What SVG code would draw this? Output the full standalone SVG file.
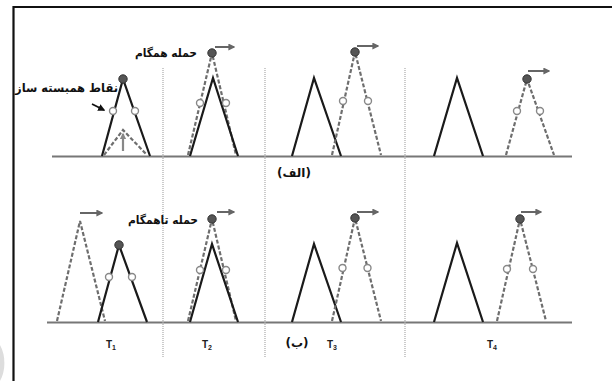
<svg xmlns="http://www.w3.org/2000/svg" width="613" height="381" viewBox="0 0 613 381">
<defs>
<style>
.bg{fill:#fff}
.frame{stroke:#111;stroke-width:2.2;fill:none}
.base{stroke:#777;stroke-width:2;fill:none}
.sep{stroke:#aaa;stroke-width:1.2;stroke-dasharray:1 1;fill:none}
.solid{stroke:#1a1a1a;stroke-width:2.2;fill:none;stroke-linejoin:miter}
.dash{stroke:#6e6e6e;stroke-width:2.2;fill:none;stroke-dasharray:4 2}
.peak{fill:#555;stroke:#333;stroke-width:1}
.pt{fill:#fff;stroke:#888;stroke-width:1.4}
.mv{stroke:#666;stroke-width:2;fill:none;marker-end:url(#ah)}
.lbl{font-family:"DejaVu Sans","Noto Sans",sans-serif;font-weight:bold;fill:#111}
.t{font-family:"Liberation Sans",Arial,sans-serif;font-weight:bold;font-size:10px;fill:#222}
</style>
<marker id="ah" viewBox="0 0 10 10" refX="8" refY="5" markerWidth="3.5" markerHeight="3.5" orient="auto" markerUnits="strokeWidth">
<path d="M0,0 L10,5 L0,10 z" fill="#666"/>
</marker>
<marker id="ahk" viewBox="0 0 10 10" refX="8" refY="5" markerWidth="4" markerHeight="4" orient="auto" markerUnits="strokeWidth">
<path d="M0,0 L10,5 L0,10 z" fill="#111"/>
</marker>
<marker id="ahg" viewBox="0 0 10 10" refX="8" refY="5" markerWidth="3" markerHeight="3" orient="auto" markerUnits="strokeWidth">
<path d="M0,0 L10,5 L0,10 z" fill="#888"/>
</marker>
</defs>
<rect class="bg" x="0" y="0" width="613" height="381"/>
<path d="M0,381 A22,30 0 0 0 0,345 z" fill="#ddd"/>
<path class="frame" d="M13.5,381 V7 H612"/>

<g id="axes">
<line class="base" x1="52" y1="156.5" x2="572" y2="156.5"/>
<line class="base" x1="47" y1="322.5" x2="572" y2="322.5"/>
<line class="sep" x1="163" y1="68" x2="163" y2="358"/>
<line class="sep" x1="265" y1="68" x2="265" y2="358"/>
<line class="sep" x1="405" y1="68" x2="405" y2="358"/>
</g>

<!-- top row -->
<g id="top-t1">
<polyline class="solid" points="102,156 123,79 150,156"/>
<polyline class="dash" points="104,155 123,130 147,155"/>
<circle class="peak" cx="123" cy="79" r="4.2"/>
<circle class="pt" cx="113" cy="111" r="3.5"/>
<circle class="pt" cx="135" cy="111" r="3.5"/>
<text class="lbl" x="118" y="92" font-size="12" text-anchor="end" textLength="103" lengthAdjust="spacingAndGlyphs">نقاط همبسته ساز</text>
</g>
<g id="top-t2">
<polyline class="dash" points="188,155 212,53 236,155"/>
<polyline class="solid" points="190,156 213,78 238,156"/>
<circle class="peak" cx="212" cy="53" r="4.2"/>
<circle class="pt" cx="200" cy="103" r="3.5"/>
<circle class="pt" cx="226" cy="103" r="3.5"/>
<text class="lbl" x="197" y="57" font-size="11.5" text-anchor="end" textLength="62" lengthAdjust="spacingAndGlyphs">حمله همگام</text>
</g>
<g id="top-t3">
<polyline class="solid" points="292,156 314,78 341,156"/>
<polyline class="dash" points="332,155 355,52 381,155"/>
<circle class="peak" cx="355" cy="52" r="4.2"/>
<circle class="pt" cx="343" cy="101" r="3.5"/>
<circle class="pt" cx="368" cy="101" r="3.5"/>
</g>
<g id="top-t4">
<polyline class="solid" points="434,156 457,78 483,156"/>
<polyline class="dash" points="506,155 527,79 554,155"/>
<circle class="peak" cx="527" cy="79" r="4.2"/>
<circle class="pt" cx="517" cy="111" r="3.5"/>
<circle class="pt" cx="540" cy="111" r="3.5"/>
</g>
<text class="lbl" x="294" y="177" font-size="12" text-anchor="middle">(الف)</text>

<!-- bottom row -->
<g id="bot-t1">
<polyline class="dash" points="57,321 80,221 105,321"/>
<polyline class="solid" points="98,322 119,245 147,322"/>
<circle class="peak" cx="119" cy="245" r="4.2"/>
<circle class="pt" cx="109" cy="277" r="3.5"/>
<circle class="pt" cx="132" cy="277" r="3.5"/>
<text class="t" x="106" y="348">T<tspan font-size="7" dy="2">1</tspan></text>
</g>
<g id="bot-t2">
<polyline class="dash" points="188,321 212,219 236,321"/>
<polyline class="solid" points="190,322 212,244 238,322"/>
<circle class="peak" cx="212" cy="219" r="4.2"/>
<circle class="pt" cx="200" cy="270" r="3.5"/>
<circle class="pt" cx="226" cy="270" r="3.5"/>
<text class="lbl" x="198" y="224" font-size="11.5" text-anchor="end" textLength="70" lengthAdjust="spacingAndGlyphs">حمله تاهمگام</text>
<text class="t" x="202" y="348">T<tspan font-size="7" dy="2">2</tspan></text>
</g>
<g id="bot-t3">
<polyline class="solid" points="292,322 314,244 341,322"/>
<polyline class="dash" points="332,321 355,218 381,321"/>
<circle class="peak" cx="355" cy="218" r="4.2"/>
<circle class="pt" cx="342.5" cy="268" r="3.5"/>
<circle class="pt" cx="367.5" cy="268" r="3.5"/>
<text class="lbl" x="297" y="347" font-size="12" text-anchor="middle">(ب)</text>
<text class="t" x="327" y="348">T<tspan font-size="7" dy="2">3</tspan></text>
</g>
<g id="bot-t4">
<polyline class="solid" points="434,322 457,243 483,322"/>
<polyline class="dash" points="497,321 520,219 546,321"/>
<circle class="peak" cx="520" cy="219" r="4.2"/>
<circle class="pt" cx="507" cy="269" r="3.5"/>
<circle class="pt" cx="533" cy="269" r="3.5"/>
<text class="t" x="487" y="348">T<tspan font-size="7" dy="2">4</tspan></text>
</g>

<g id="connectors">
<line class="mv" x1="215" y1="47" x2="234" y2="47"/>
<line class="mv" x1="357" y1="46" x2="378" y2="46"/>
<line class="mv" x1="528" y1="71" x2="549" y2="71"/>
<line class="mv" x1="80" y1="213" x2="102" y2="213"/>
<line class="mv" x1="217" y1="212" x2="234" y2="212"/>
<line class="mv" x1="357" y1="212" x2="378" y2="212"/>
<line class="mv" x1="521" y1="212" x2="541" y2="212"/>
<line x1="123" y1="151" x2="123" y2="134" stroke="#888" stroke-width="2.2" marker-end="url(#ahg)"/>
<line x1="92" y1="104" x2="104" y2="110" stroke="#111" stroke-width="1.8" marker-end="url(#ahk)"/>
</g>
</svg>
